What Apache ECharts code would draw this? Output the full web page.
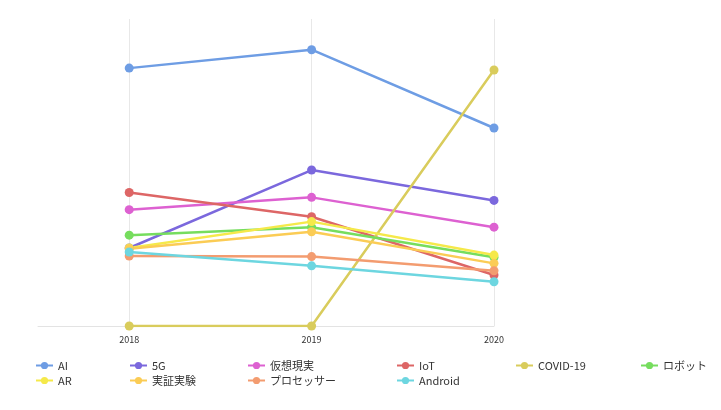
<!DOCTYPE html>
<html>
<head>
<meta charset="utf-8">
<script src="https://cdn.jsdelivr.net/npm/echarts@6/dist/echarts.min.js"></script>
<style>
  html, body { margin: 0; padding: 0; background: #fff; }
  #main { width: 721px; height: 410px; }
</style>
</head>
<body>
<div id="main"></div>
<script>
// 年
const years = [2018, 2019, 2020];

// 各キーワードの値
const names = ['AI', '5G', '仮想現実', 'IoT', 'COVID-19', 'ロボット', 'AR', '実証実験', 'プロセッサー', 'Android'];
const aiData = [84, 90, 64.5];
const g5Data = [25.4, 50.8, 40.9];
const vrData = [37.9, 41.9, 32.2];
const iotData = [43.5, 35.6, 16.6];
const covidData = [0, 0, 83.4];
const robotData = [29.6, 32.2, 22.4];
const arData = [25.4, 34, 23.1];
const pocData = [25.2, 30.7, 20.4];
const cpuData = [22.8, 22.6, 18];
const androidData = [24.1, 19.6, 14.4];

const colors = ['#6e9de4', '#7b68dd', '#dd61d1', '#dd6666', '#d9cc5c', '#76dd5e', '#f5e94a', '#fbcc55', '#f39c70', '#6dd6e0'];

const allData = [aiData, g5Data, vrData, iotData, covidData, robotData, arData, pocData, cpuData, androidData];

const chart = echarts.init(document.querySelector('#main'));

// 凡例は列ごとに並べる
const legendCols = [
    { left: 35, data: ['AI', 'AR'] },
    { left: 129, data: ['5G', '実証実験'] },
    { left: 247, data: ['仮想現実', 'プロセッサー'] },
    { left: 396, data: ['IoT', 'Android'] },
    { left: 515, data: ['COVID-19'] },
    { left: 640, data: ['ロボット'] }
];

chart.setOption({
    color: colors,
    textStyle: {
        fontFamily: '"Noto Sans CJK JP", "Noto Sans", sans-serif'
    },
    grid: {
        left: 38,
        right: 227,
        top: 19,
        bottom: 84
    },
    legend: legendCols.map(col => ({
        orient: 'vertical',
        left: col.left,
        top: 360,
        itemWidth: 17,
        itemHeight: 9,
        itemGap: 4,
        padding: 0,
        textStyle: {
            fontSize: 11,
            color: '#333'
        },
        data: col.data
    })),
    xAxis: {
        type: 'value',
        min: 2017.5,
        max: 2020,
        axisLine: {
            show: true,
            lineStyle: {
                color: '#e3e3e3'
            }
        },
        axisTick: {
            show: false,
            customValues: years
        },
        axisLabel: {
            customValues: years,
            formatter: val => String(val),
            fontSize: 9,
            color: '#333',
            margin: 9
        },
        splitLine: {
            show: true,
            lineStyle: {
                color: '#e8e8e8'
            }
        }
    },
    yAxis: {
        type: 'value',
        min: 0,
        max: 100,
        show: false
    },
    series: names.map((name, i) => ({
        name: name,
        type: 'line',
        data: years.map((y, j) => [y, allData[i][j]]),
        symbol: 'circle',
        symbolSize: 9,
        lineStyle: {
            width: 2.5
        }
    }))
});
</script>
</body>
</html>
